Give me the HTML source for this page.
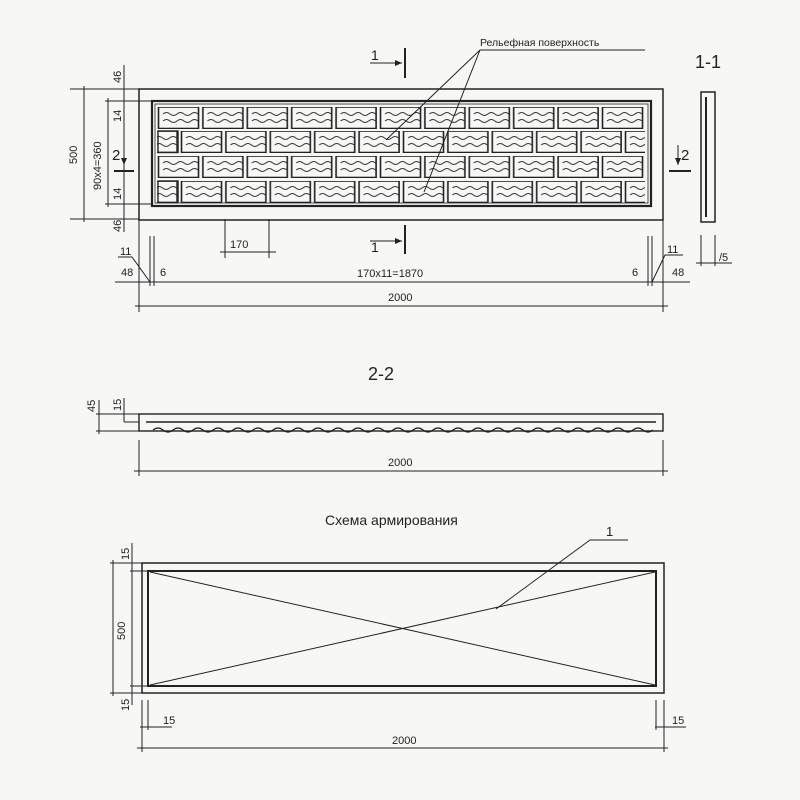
<!DOCTYPE html>
<html><head><meta charset="utf-8"><style>
html,body{margin:0;padding:0;background:#f7f7f5}
svg{display:block}
text{font-family:"Liberation Sans",sans-serif;fill:#222}
</style></head><body>
<svg width="800" height="800" viewBox="0 0 800 800" xmlns="http://www.w3.org/2000/svg">
<defs>
<g id="br">
<rect x="1.5" y="0" width="40" height="21.5" fill="none" stroke="#222" stroke-width="1.6"/>
<path d="M6,7 q3.5,-3 7,0 t7,0 t7,0 t7,0 t7,0" fill="none" stroke="#333" stroke-width="1"/>
<path d="M6,14 q3.5,-3 7,0 t7,0 t7,0 t7,0 t7,0" fill="none" stroke="#333" stroke-width="1"/>
</g>
<pattern id="p1" patternUnits="userSpaceOnUse" x="157" y="107" width="44.4" height="22"><use href="#br"/></pattern>
<pattern id="p2" patternUnits="userSpaceOnUse" x="180" y="131" width="44.4" height="22"><use href="#br"/></pattern>
<pattern id="p3" patternUnits="userSpaceOnUse" x="157" y="156" width="44.4" height="22"><use href="#br"/></pattern>
<pattern id="p4" patternUnits="userSpaceOnUse" x="180" y="181" width="44.4" height="22"><use href="#br"/></pattern>
</defs>
<g stroke="#222" fill="none" stroke-width="1.2">
<!-- main panel -->
<rect x="139" y="89" width="524" height="131" stroke-width="1.5"/>
<rect x="152" y="101" width="499" height="105" stroke-width="2.2"/>
<rect x="155" y="104" width="493" height="99" stroke-width="0.8"/>
</g>
<rect x="157" y="107" width="488" height="22" fill="url(#p1)"/>
<rect x="157" y="131" width="488" height="22" fill="url(#p2)"/>
<rect x="157" y="156" width="488" height="22" fill="url(#p3)"/>
<rect x="157" y="181" width="488" height="22" fill="url(#p4)"/>
<g stroke="#222" fill="none" stroke-width="1.4">
<rect x="158" y="131" width="20" height="21.5"/>
<rect x="158" y="181" width="20" height="21.5"/>
</g>
<g stroke="#222" fill="none" stroke-width="1">
<!-- left dims -->
<line x1="70" y1="89" x2="139" y2="89"/><line x1="70" y1="219" x2="139" y2="219"/>
<line x1="84" y1="86" x2="84" y2="222"/>
<line x1="105" y1="101" x2="152" y2="101"/><line x1="105" y1="204" x2="152" y2="204"/>
<line x1="108" y1="98" x2="108" y2="207"/>
<line x1="124" y1="65" x2="124" y2="232"/>
<line x1="124" y1="101" x2="142" y2="101"/>
<!-- section 2 marks -->
<line x1="114" y1="171" x2="134" y2="171" stroke-width="2"/>
<line x1="124" y1="145" x2="124" y2="165"/>
<line x1="669" y1="171" x2="691" y2="171" stroke-width="2"/>
<line x1="678" y1="145" x2="678" y2="165"/>
<!-- section 1 marks -->
<line x1="405" y1="48" x2="405" y2="78" stroke-width="2"/>
<line x1="370" y1="63" x2="402" y2="63"/>
<line x1="405" y1="225" x2="405" y2="254" stroke-width="2"/>
<line x1="370" y1="241" x2="402" y2="241"/>
<!-- leader -->
<line x1="480" y1="50" x2="645" y2="50"/>
<line x1="480" y1="50" x2="386" y2="140"/>
<line x1="480" y1="50" x2="424" y2="192"/>
<!-- 170 -->
<line x1="225" y1="219" x2="225" y2="258"/><line x1="269" y1="219" x2="269" y2="258"/>
<line x1="220" y1="252" x2="276" y2="252"/>
<!-- bottom dims -->
<line x1="139" y1="220" x2="139" y2="312"/><line x1="663" y1="220" x2="663" y2="312"/>
<line x1="150" y1="236" x2="150" y2="286"/><line x1="154" y1="236" x2="154" y2="286"/>
<line x1="648" y1="236" x2="648" y2="286"/><line x1="652" y1="236" x2="652" y2="286"/>
<line x1="115" y1="282" x2="690" y2="282"/>
<line x1="135" y1="306" x2="668" y2="306"/>
<polyline points="118,257 132,257 150,282"/>
<polyline points="683,255 665,255 652,282"/>
<!-- 1-1 section -->
<rect x="701" y="92" width="14" height="130" stroke-width="1.5"/>
<line x1="706" y1="97" x2="706" y2="217" stroke-width="2"/>
<line x1="701" y1="235" x2="701" y2="266"/><line x1="715" y1="235" x2="715" y2="266"/>
<line x1="696" y1="263" x2="732" y2="263"/>
<!-- 2-2 -->
<rect x="139" y="414" width="524" height="17" stroke-width="1.4"/>
<line x1="146" y1="422" x2="656" y2="422" stroke-width="1.6"/>
<path d="M153,430 q5,-4 10,0 t10,0 t10,0 t10,0 t10,0 t10,0 t10,0 t10,0 t10,0 t10,0 t10,0 t10,0 t10,0 t10,0 t10,0 t10,0 t10,0 t10,0 t10,0 t10,0 t10,0 t10,0 t10,0 t10,0 t10,0 t10,0 t10,0 t10,0 t10,0 t10,0 t10,0 t10,0 t10,0 t10,0 t10,0 t10,0 t10,0 t10,0 t10,0 t10,0 t10,0 t10,0 t10,0 t10,0 t10,0 t10,0 t10,0 t10,0 t10,0 t10,0" stroke-width="1.2"/>
<line x1="96" y1="414" x2="139" y2="414"/><line x1="96" y1="431" x2="139" y2="431"/>
<line x1="99" y1="400" x2="99" y2="434"/>
<line x1="124" y1="398" x2="124" y2="422"/><line x1="124" y1="422" x2="139" y2="422"/>
<line x1="139" y1="440" x2="139" y2="476"/><line x1="663" y1="440" x2="663" y2="476"/>
<line x1="134" y1="471" x2="668" y2="471"/>
<!-- armirovanie -->
<rect x="142" y="563" width="522" height="130" stroke-width="1.5"/>
<rect x="148" y="571" width="508" height="115" stroke-width="2"/>
<line x1="150" y1="572" x2="655" y2="685"/>
<line x1="150" y1="685" x2="655" y2="572"/>
<polyline points="496,609 590,540 628,540"/>
<line x1="110" y1="563" x2="142" y2="563"/><line x1="110" y1="693" x2="142" y2="693"/>
<line x1="113" y1="560" x2="113" y2="696"/>
<line x1="132" y1="543" x2="132" y2="705"/>
<line x1="130" y1="571" x2="148" y2="571"/><line x1="130" y1="686" x2="148" y2="686"/>
<line x1="142" y1="700" x2="142" y2="752"/><line x1="148" y1="700" x2="148" y2="730"/>
<line x1="656" y1="700" x2="656" y2="730"/><line x1="664" y1="700" x2="664" y2="752"/>
<line x1="140" y1="727" x2="172" y2="727"/><line x1="655" y1="727" x2="686" y2="727"/>
<line x1="137" y1="748" x2="668" y2="748"/>
</g>
<g fill="#222">
<path d="M402,63 l-7,-3 l0,6z"/><path d="M402,241 l-7,-3 l0,6z"/>
<path d="M124,165 l-3,-7 l6,0z"/><path d="M678,165 l-3,-7 l6,0z"/>
</g>
<g font-size="11">
<text x="480" y="46" font-size="10.5">Рельефная поверхность</text>
<text x="371" y="60" font-size="14">1</text>
<text x="371" y="252" font-size="14">1</text>
<text x="112" y="160" font-size="15">2</text>
<text x="681" y="160" font-size="15">2</text>
<text x="695" y="68" font-size="18">1-1</text>
<text x="230" y="248">170</text>
<text x="357" y="277">170x11=1870</text>
<text x="388" y="301">2000</text>
<text x="120" y="255">11</text>
<text x="121" y="276">48</text>
<text x="160" y="276">6</text>
<text x="632" y="276">6</text>
<text x="667" y="253">11</text>
<text x="672" y="276">48</text>
<text x="719" y="261">/5</text>
<text x="368" y="380" font-size="18">2-2</text>
<text x="388" y="466">2000</text>
<text x="325" y="525" font-size="14">Схема армирования</text>
<text x="606" y="536" font-size="13">1</text>
<text x="163" y="724">15</text>
<text x="672" y="724">15</text>
<text x="392" y="744">2000</text>
</g>
<g font-size="11">
<text transform="translate(77,164) rotate(-90)">500</text>
<text transform="translate(101,190) rotate(-90)">90x4=360</text>
<text transform="translate(121,83) rotate(-90)">46</text>
<text transform="translate(121,122) rotate(-90)">14</text>
<text transform="translate(121,200) rotate(-90)">14</text>
<text transform="translate(121,232) rotate(-90)">46</text>
<text transform="translate(95,412) rotate(-90)">45</text>
<text transform="translate(121,411) rotate(-90)">15</text>
<text transform="translate(125,640) rotate(-90)">500</text>
<text transform="translate(129,560) rotate(-90)">15</text>
<text transform="translate(129,711) rotate(-90)">15</text>
</g>
</svg>
</body></html>
